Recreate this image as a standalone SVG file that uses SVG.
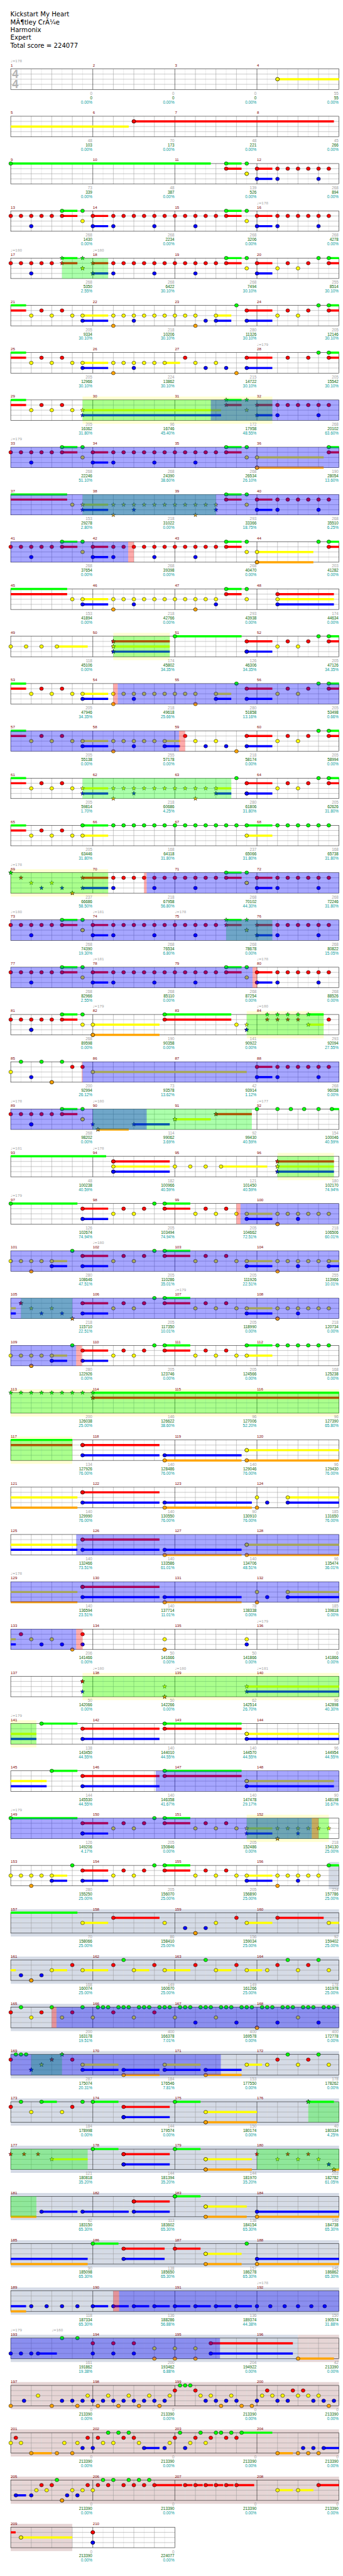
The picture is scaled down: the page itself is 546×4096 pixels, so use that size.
<svg xmlns="http://www.w3.org/2000/svg" width="546" height="4096" viewBox="0 0 546 4096">
<style>
.t{font:19px "DejaVu Sans",sans-serif;fill:#000}
.m{font:11.5px "Liberation Sans",Arial,sans-serif;fill:#800000}
.a,.c,.p{font:12px "Liberation Sans",Arial,sans-serif;text-anchor:end}
.a{fill:#a0a0a0}.c{fill:#006400}.p{fill:#009999}
.k{font:10.5px "DejaVu Sans",sans-serif;fill:#a0a0a0}
.tG,.tR,.tY,.tB,.tO{fill:none;stroke-width:6.5}
.tG{stroke:#0f0}.tR{stroke:#f00}.tY{stroke:#ff0}.tB{stroke:#00f}.tO{stroke:#ffa500}
.nG,.nR,.nY,.nB,.nO,.kG,.kR,.kY,.kB,.kO{fill:none;stroke:none}
.nG{marker:url(#mG)}.nR{marker:url(#mR)}.nY{marker:url(#mY)}.nB{marker:url(#mB)}.nO{marker:url(#mO)}
.kG{marker:url(#kG)}.kR{marker:url(#kR)}.kY{marker:url(#kY)}.kB{marker:url(#kB)}.kO{marker:url(#kO)}
.og{fill:#0f0;fill-opacity:.33}.ob{fill:#00f;fill-opacity:.35}.op{fill:#f00;fill-opacity:.33}
.py{fill:#ffffd2}.pg{fill:#d5dbe6}.pp{fill:#e6d5d5}
</style>
<defs>
<ellipse id="e" rx="5.6" ry="5.2" stroke="#000" stroke-width="1"/>
<polygon id="st" points="0,-6.5 1.53,-2.1 6.18,-2.01 2.47,0.8 3.82,5.26 0,2.6 -3.82,5.26 -2.47,0.8 -6.18,-2.01 -1.53,-2.1" stroke="#000" stroke-width="0.8"/>
<marker id="mG" markerUnits="userSpaceOnUse" overflow="visible"><use href="#e" fill="#0f0"/></marker>
<marker id="mR" markerUnits="userSpaceOnUse" overflow="visible"><use href="#e" fill="#f00"/></marker>
<marker id="mY" markerUnits="userSpaceOnUse" overflow="visible"><use href="#e" fill="#ff0"/></marker>
<marker id="mB" markerUnits="userSpaceOnUse" overflow="visible"><use href="#e" fill="#00f"/></marker>
<marker id="mO" markerUnits="userSpaceOnUse" overflow="visible"><use href="#e" fill="#ffa500"/></marker>
<marker id="kG" markerUnits="userSpaceOnUse" overflow="visible"><use href="#st" fill="#0f0"/></marker>
<marker id="kR" markerUnits="userSpaceOnUse" overflow="visible"><use href="#st" fill="#f00"/></marker>
<marker id="kY" markerUnits="userSpaceOnUse" overflow="visible"><use href="#st" fill="#ff0"/></marker>
<marker id="kB" markerUnits="userSpaceOnUse" overflow="visible"><use href="#st" fill="#00f"/></marker>
<marker id="kO" markerUnits="userSpaceOnUse" overflow="visible"><use href="#st" fill="#ffa500"/></marker>
<g id="S" fill="none">
<path stroke="#ddd" d="M62.6 0v61M123.9 0v61M185.1 0v61M246.4 0v61M307.6 0v61M368.9 0v61M430.1 0v61M491.4 0v61M552.6 0v61M613.9 0v61M675.1 0v61M736.4 0v61M797.6 0v61M858.9 0v61M920.1 0v61M981.4 0v61"/>
<path stroke="#999" d="M93.3 0v61M154.5 0v61M215.8 0v61M338.3 0v61M399.5 0v61M460.8 0v61M583.3 0v61M644.5 0v61M705.8 0v61M828.3 0v61M889.5 0v61M950.8 0v61M32 15.25H1012M32 30.5H1012M32 45.75H1012"/>
<path stroke="#000" d="M277 0v61M522 0v61M767 0v61"/>
<rect x="32" width="980" height="61" stroke="#000"/>
</g>
<g id="S2" fill="none">
<path stroke="#ddd" d="M62.6 0v61M123.9 0v61M185.1 0v61M246.4 0v61M307.6 0v61M368.9 0v61M430.1 0v61M491.4 0v61"/>
<path stroke="#999" d="M93.3 0v61M154.5 0v61M215.8 0v61M338.3 0v61M399.5 0v61M460.8 0v61M32 15.25H522M32 30.5H522M32 45.75H522"/>
<path stroke="#000" d="M277 0v61"/>
<rect x="32" width="490" height="61" stroke="#000"/>
</g>
</defs>
<rect width="546" height="4096" fill="#fff"/>
<g transform="scale(0.5333)">
<g id="header">
<text class="t" x="31" y="49.3">Kickstart My Heart</text>
<text class="t" x="31" y="72.4">MÃ¶tley CrÃ¼e</text>
<text class="t" x="31" y="95.5">Harmonix</text>
<text class="t" x="31" y="118.6">Expert</text>
<text class="t" x="31" y="141.7">Total score = 224077</text>
</g>

<g id="row0" transform="translate(0,205.7)">
<use href="#S"/>
<text x="36" y="27.5" style="font:bold 34px 'Liberation Sans',sans-serif;fill:#b4b4b4">4</text>
<text x="36" y="57.5" style="font:bold 34px 'Liberation Sans',sans-serif;fill:#b4b4b4">4</text>
<path class="tY" d="M828.3 30.5H1012"/>
<path class="nY" d="M828.3 30.5h0"/>
<text class="k" x="32" y="-20">♩=178</text>
<text class="m" y="-7"><tspan x="32">1</tspan><tspan x="277">2</tspan><tspan x="522">3</tspan><tspan x="767">4</tspan></text>
<text class="a" y="77"><tspan x="275.5">0</tspan><tspan x="520.5">0</tspan><tspan x="765.5">0</tspan><tspan x="1010.5">55</tspan></text>
<text class="c" y="90"><tspan x="275.5">0</tspan><tspan x="520.5">0</tspan><tspan x="765.5">0</tspan><tspan x="1010.5">55</tspan></text>
<text class="p" y="103"><tspan x="275.5">0.00%</tspan><tspan x="520.5">0.00%</tspan><tspan x="765.5">0.00%</tspan><tspan x="1010.5">0.00%</tspan></text>
</g>

<g id="row1" transform="translate(0,346.7)">
<use href="#S"/>
<path class="tY" d="M32 30.5H384.2"/>
<path class="tR" d="M399.5 15.25H996.7"/>
<path class="nR" d="M399.5 15.25h0"/>
<text class="m" y="-7"><tspan x="32">5</tspan><tspan x="277">6</tspan><tspan x="522">7</tspan><tspan x="767">8</tspan></text>
<text class="a" y="77"><tspan x="275.5">48</tspan><tspan x="520.5">70</tspan><tspan x="765.5">48</tspan><tspan x="1010.5">45</tspan></text>
<text class="c" y="90"><tspan x="275.5">103</tspan><tspan x="520.5">173</tspan><tspan x="765.5">221</tspan><tspan x="1010.5">266</tspan></text>
<text class="p" y="103"><tspan x="275.5">0.00%</tspan><tspan x="520.5">0.00%</tspan><tspan x="765.5">0.00%</tspan><tspan x="1010.5">0.00%</tspan></text>
</g>

<g id="row2" transform="translate(0,487.6)">
<use href="#S"/>
<path class="tG" d="M32 0H629.2M675.1 0H721.1"/>
<path class="tR" d="M675.1 15.25H721.1M767 15.25H812.9"/>
<path class="tB" d="M767 45.75H812.9"/>
<path class="nG" d="M32 0H675.1H736.4"/>
<path class="nR" d="M675.1 15.25H767H828.3H858.9H889.5H920.1H950.8H981.4"/>
<path class="nY" d="M736.4 30.5h0"/>
<path class="nB" d="M767 45.75H828.3H950.8"/>
<text class="m" y="-7"><tspan x="32">9</tspan><tspan x="277">10</tspan><tspan x="522">11</tspan><tspan x="767">12</tspan></text>
<text class="a" y="77"><tspan x="275.5">73</tspan><tspan x="520.5">48</tspan><tspan x="765.5">139</tspan><tspan x="1010.5">268</tspan></text>
<text class="c" y="90"><tspan x="275.5">339</tspan><tspan x="520.5">387</tspan><tspan x="765.5">526</tspan><tspan x="1010.5">894</tspan></text>
<text class="p" y="103"><tspan x="275.5">0.00%</tspan><tspan x="520.5">0.00%</tspan><tspan x="765.5">0.00%</tspan><tspan x="1010.5">0.00%</tspan></text>
</g>

<g id="row3" transform="translate(0,628.6)">
<use href="#S"/>
<path class="tG" d="M185.1 0H231.1M675.1 0H721.1"/>
<path class="tR" d="M185.1 15.25H231.1M277 15.25H322.9M675.1 15.25H721.1M767 15.25H812.9"/>
<path class="tB" d="M277 45.75H322.9M767 45.75H812.9"/>
<path class="nG" d="M185.1 0H246.4H675.1H736.4"/>
<path class="nR" d="M32 15.25H62.6H93.3H123.9H154.5H185.1H277H338.3H368.9H399.5H430.1H460.8H491.4H522H552.6H583.3H613.9H644.5H675.1H767H828.3H858.9H889.5H920.1H950.8H981.4"/>
<path class="nY" d="M246.4 30.5H736.4"/>
<path class="nB" d="M93.3 45.75H277H338.3H460.8H583.3H767H828.3H950.8"/>
<text class="k" x="767" y="-20">♩=178</text>
<text class="m" y="-7"><tspan x="32">13</tspan><tspan x="277">14</tspan><tspan x="522">15</tspan><tspan x="767">16</tspan></text>
<text class="a" y="77"><tspan x="275.5">268</tspan><tspan x="520.5">268</tspan><tspan x="765.5">268</tspan><tspan x="1010.5">268</tspan></text>
<text class="c" y="90"><tspan x="275.5">1430</tspan><tspan x="520.5">2234</tspan><tspan x="765.5">3206</tspan><tspan x="1010.5">4278</tspan></text>
<text class="p" y="103"><tspan x="275.5">0.00%</tspan><tspan x="520.5">0.00%</tspan><tspan x="765.5">0.00%</tspan><tspan x="1010.5">0.00%</tspan></text>
</g>

<g id="row4" transform="translate(0,769.5)">
<use href="#S"/>
<path class="tG" d="M185.1 0H231.1M675.1 0H721.1M981.4 0H1012"/>
<path class="tR" d="M185.1 15.25H231.1M277 15.25H322.9M675.1 15.25H721.1M767 15.25H812.9M981.4 15.25H1012"/>
<path class="tB" d="M277 45.75H322.9M767 45.75H812.9"/>
<path class="nG" d="M675.1 0H736.4H950.8H981.4"/>
<path class="nR" d="M32 15.25H62.6H93.3H123.9H154.5H338.3H368.9H399.5H430.1H460.8H491.4H522H552.6H583.3H613.9H644.5H675.1H767H858.9H920.1H981.4"/>
<path class="nY" d="M736.4 30.5H828.3H889.5"/>
<path class="nB" d="M93.3 45.75H338.3H460.8H583.3H767"/>
<path class="kG" d="M185.1 0H246.4"/>
<path class="kR" d="M185.1 15.25H277"/>
<path class="kY" d="M246.4 30.5h0"/>
<path class="kB" d="M277 45.75h0"/>
<rect class="og" x="185.1" width="137.8" height="61"/>
<text class="k" x="32" y="-20">♩=180</text>
<text class="k" x="277" y="-20">♩=180</text>
<text class="m" y="-7"><tspan x="32">17</tspan><tspan x="277">18</tspan><tspan x="522">19</tspan><tspan x="767">20</tspan></text>
<text class="a" y="77"><tspan x="275.5">268</tspan><tspan x="520.5">268</tspan><tspan x="765.5">268</tspan><tspan x="1010.5">255</tspan></text>
<text class="c" y="90"><tspan x="275.5">5350</tspan><tspan x="520.5">6422</tspan><tspan x="765.5">7494</tspan><tspan x="1010.5">8514</tspan></text>
<text class="p" y="103"><tspan x="275.5">2.55%</tspan><tspan x="520.5">30.10%</tspan><tspan x="765.5">30.10%</tspan><tspan x="1010.5">30.10%</tspan></text>
</g>

<g id="row5" transform="translate(0,910.5)">
<use href="#S"/>
<path class="tG" d="M32 0H77.9M981.4 0H1012"/>
<path class="tR" d="M32 15.25H77.9M736.4 15.25H812.9M981.4 15.25H1012"/>
<path class="tY" d="M246.4 30.5H322.9M644.5 30.5H690.4"/>
<path class="tB" d="M246.4 45.75H322.9M644.5 45.75H690.4M736.4 45.75H812.9"/>
<path class="nG" d="M705.8 0H950.8H981.4"/>
<path class="nR" d="M123.9 15.25H185.1H736.4H858.9H920.1H981.4"/>
<path class="nY" d="M93.3 30.5H154.5H215.8H246.4H338.3H368.9H399.5H430.1H460.8H491.4H522H552.6H583.3H644.5H828.3H889.5"/>
<path class="nB" d="M246.4 45.75H399.5H613.9H644.5H736.4"/>
<path class="nO" d="M338.3 61H583.3"/>
<text class="m" y="-7"><tspan x="32">21</tspan><tspan x="277">22</tspan><tspan x="522">23</tspan><tspan x="767">24</tspan></text>
<text class="a" y="77"><tspan x="275.5">205</tspan><tspan x="520.5">218</tspan><tspan x="765.5">280</tspan><tspan x="1010.5">205</tspan></text>
<text class="c" y="90"><tspan x="275.5">9334</tspan><tspan x="520.5">10206</tspan><tspan x="765.5">11326</tspan><tspan x="1010.5">12146</tspan></text>
<text class="p" y="103"><tspan x="275.5">30.10%</tspan><tspan x="520.5">30.10%</tspan><tspan x="765.5">30.10%</tspan><tspan x="1010.5">30.10%</tspan></text>
</g>

<g id="row6" transform="translate(0,1051.4)">
<use href="#S"/>
<path class="tG" d="M32 0H77.9M981.4 0H1012"/>
<path class="tR" d="M32 15.25H77.9M736.4 15.25H812.9M981.4 15.25H1012"/>
<path class="tY" d="M246.4 30.5H322.9M491.4 30.5H537.3"/>
<path class="tB" d="M246.4 45.75H322.9M736.4 45.75H812.9"/>
<path class="nG" d="M950.8 0H981.4"/>
<path class="nR" d="M123.9 15.25H185.1H552.6H736.4H858.9H920.1H981.4"/>
<path class="nY" d="M93.3 30.5H154.5H215.8H246.4H338.3H368.9H399.5H430.1H460.8H491.4H583.3H644.5"/>
<path class="nB" d="M246.4 45.75H399.5H613.9H675.1H736.4"/>
<path class="nO" d="M338.3 61H705.8"/>
<text class="k" x="767" y="-20">♩=179</text>
<text class="m" y="-7"><tspan x="32">25</tspan><tspan x="277">26</tspan><tspan x="522">27</tspan><tspan x="767">28</tspan></text>
<text class="a" y="77"><tspan x="275.5">205</tspan><tspan x="520.5">224</tspan><tspan x="765.5">215</tspan><tspan x="1010.5">205</tspan></text>
<text class="c" y="90"><tspan x="275.5">12966</tspan><tspan x="520.5">13862</tspan><tspan x="765.5">14722</tspan><tspan x="1010.5">15542</tspan></text>
<text class="p" y="103"><tspan x="275.5">30.10%</tspan><tspan x="520.5">30.10%</tspan><tspan x="765.5">30.10%</tspan><tspan x="1010.5">30.10%</tspan></text>
</g>

<g id="row7" transform="translate(0,1192.4)">
<rect class="py" x="246.4" y="-10" width="566.5" height="81"/>
<use href="#S"/>
<path class="tG" d="M32 0H77.9M675.1 0H721.1"/>
<path class="tR" d="M32 15.25H77.9M675.1 15.25H721.1M767 15.25H812.9"/>
<path class="tY" d="M246.4 30.5H659.8"/>
<path class="tB" d="M246.4 45.75H659.8M767 45.75H812.9"/>
<path class="nR" d="M123.9 15.25H185.1H828.3H858.9H889.5H920.1H950.8H981.4"/>
<path class="nY" d="M93.3 30.5H154.5H215.8"/>
<path class="nB" d="M828.3 45.75H950.8"/>
<path class="kG" d="M675.1 0H736.4"/>
<path class="kR" d="M675.1 15.25H767"/>
<path class="kY" d="M246.4 30.5H736.4"/>
<path class="kB" d="M246.4 45.75H767"/>
<rect class="og" x="246.4" width="566.5" height="61"/>
<rect class="ob" x="629.2" width="382.8" height="61"/>
<text class="m" y="-7"><tspan x="32">29</tspan><tspan x="277">30</tspan><tspan x="522">31</tspan><tspan x="767">32</tspan></text>
<text class="a" y="77"><tspan x="275.5">205</tspan><tspan x="520.5">96</tspan><tspan x="765.5">172</tspan><tspan x="1010.5">268</tspan></text>
<text class="c" y="90"><tspan x="275.5">16362</tspan><tspan x="520.5">16746</tspan><tspan x="765.5">17958</tspan><tspan x="1010.5">20102</tspan></text>
<text class="p" y="103"><tspan x="275.5">31.80%</tspan><tspan x="520.5">45.40%</tspan><tspan x="765.5">48.55%</tspan><tspan x="1010.5">63.60%</tspan></text>
</g>

<g id="row8" transform="translate(0,1333.3)">
<use href="#S"/>
<path class="tG" d="M185.1 0H231.1M675.1 0H721.1M981.4 0H1012"/>
<path class="tR" d="M185.1 15.25H231.1M277 15.25H322.9M675.1 15.25H721.1M981.4 15.25H1012"/>
<path class="tY" d="M767 30.5H966.1"/>
<path class="tB" d="M277 45.75H322.9"/>
<path class="tO" d="M767 61H966.1"/>
<path class="nG" d="M185.1 0H246.4H675.1H736.4H981.4"/>
<path class="nR" d="M32 15.25H62.6H93.3H123.9H154.5H185.1H277H338.3H368.9H399.5H430.1H460.8H491.4H522H552.6H583.3H613.9H644.5H675.1H981.4"/>
<path class="nY" d="M246.4 30.5H736.4H767"/>
<path class="nB" d="M93.3 45.75H277H338.3H460.8H583.3"/>
<path class="nO" d="M767 61h0"/>
<rect class="ob" x="32" width="980" height="61"/>
<text class="k" x="32" y="-20">♩=179</text>
<text class="m" y="-7"><tspan x="32">33</tspan><tspan x="277">34</tspan><tspan x="522">35</tspan><tspan x="767">36</tspan></text>
<text class="a" y="77"><tspan x="275.5">268</tspan><tspan x="520.5">268</tspan><tspan x="765.5">268</tspan><tspan x="1010.5">190</tspan></text>
<text class="c" y="90"><tspan x="275.5">22246</tspan><tspan x="520.5">24390</tspan><tspan x="765.5">26534</tspan><tspan x="1010.5">28054</tspan></text>
<text class="p" y="103"><tspan x="275.5">51.10%</tspan><tspan x="520.5">38.60%</tspan><tspan x="765.5">26.10%</tspan><tspan x="1010.5">13.60%</tspan></text>
</g>

<g id="row9" transform="translate(0,1474.3)">
<use href="#S"/>
<path class="tG" d="M32 0H200.4M675.1 0H721.1"/>
<path class="tR" d="M32 15.25H200.4M675.1 15.25H721.1M767 15.25H812.9"/>
<path class="tY" d="M246.4 30.5H322.9"/>
<path class="tB" d="M246.4 45.75H322.9M767 45.75H812.9"/>
<path class="nG" d="M675.1 0H736.4"/>
<path class="nR" d="M675.1 15.25H767H828.3H858.9H889.5H920.1H950.8H981.4"/>
<path class="nY" d="M215.8 30.5H736.4"/>
<path class="nB" d="M767 45.75H828.3H950.8"/>
<path class="kY" d="M246.4 30.5H338.3H368.9H399.5H430.1H460.8H491.4H522H552.6H583.3H613.9H644.5"/>
<path class="kB" d="M246.4 45.75H399.5H644.5"/>
<path class="kO" d="M338.3 61H583.3"/>
<rect class="og" x="246.4" width="398.1" height="61"/>
<rect class="ob" x="32" width="980" height="61"/>
<text class="m" y="-7"><tspan x="32">37</tspan><tspan x="277">38</tspan><tspan x="522">39</tspan><tspan x="767">40</tspan></text>
<text class="a" y="77"><tspan x="275.5">153</tspan><tspan x="520.5">218</tspan><tspan x="765.5">293</tspan><tspan x="1010.5">268</tspan></text>
<text class="c" y="90"><tspan x="275.5">29278</tspan><tspan x="520.5">31022</tspan><tspan x="765.5">33366</tspan><tspan x="1010.5">35510</tspan></text>
<text class="p" y="103"><tspan x="275.5">2.80%</tspan><tspan x="520.5">0.00%</tspan><tspan x="765.5">18.75%</tspan><tspan x="1010.5">6.25%</tspan></text>
</g>

<g id="row10" transform="translate(0,1615.2)">
<use href="#S"/>
<path class="tG" d="M185.1 0H231.1M675.1 0H721.1M981.4 0H1012"/>
<path class="tR" d="M185.1 15.25H231.1M277 15.25H322.9M675.1 15.25H721.1M981.4 15.25H1012"/>
<path class="tY" d="M767 30.5H935.4"/>
<path class="tB" d="M277 45.75H322.9"/>
<path class="tO" d="M767 61H935.4"/>
<path class="nG" d="M185.1 0H246.4H675.1H736.4H950.8H981.4"/>
<path class="nR" d="M32 15.25H62.6H93.3H123.9H154.5H185.1H277H338.3H368.9H399.5H430.1H460.8H491.4H522H552.6H583.3H613.9H644.5H675.1H981.4"/>
<path class="nY" d="M246.4 30.5H736.4H767"/>
<path class="nB" d="M93.3 45.75H277H338.3H460.8H583.3"/>
<path class="nO" d="M767 61h0"/>
<rect class="ob" x="32" width="350.7" height="61"/>
<rect class="op" x="382.7" width="16.8" height="61"/>
<text class="m" y="-7"><tspan x="32">41</tspan><tspan x="277">42</tspan><tspan x="522">43</tspan><tspan x="767">44</tspan></text>
<text class="a" y="77"><tspan x="275.5">268</tspan><tspan x="520.5">268</tspan><tspan x="765.5">268</tspan><tspan x="1010.5">203</tspan></text>
<text class="c" y="90"><tspan x="275.5">37654</tspan><tspan x="520.5">39398</tspan><tspan x="765.5">40470</tspan><tspan x="1010.5">41282</tspan></text>
<text class="p" y="103"><tspan x="275.5">0.00%</tspan><tspan x="520.5">0.00%</tspan><tspan x="765.5">0.00%</tspan><tspan x="1010.5">0.00%</tspan></text>
</g>

<g id="row11" transform="translate(0,1756.2)">
<use href="#S"/>
<path class="tG" d="M32 0H200.4M675.1 0H721.1"/>
<path class="tR" d="M32 15.25H200.4M675.1 15.25H721.1M828.3 15.25H996.7"/>
<path class="tY" d="M246.4 30.5H322.9M828.3 30.5H996.7"/>
<path class="tB" d="M246.4 45.75H322.9M828.3 45.75H996.7"/>
<path class="nG" d="M675.1 0H736.4"/>
<path class="nR" d="M675.1 15.25H828.3"/>
<path class="nY" d="M215.8 30.5H246.4H338.3H368.9H399.5H430.1H460.8H491.4H522H552.6H583.3H613.9H644.5H736.4H828.3"/>
<path class="nB" d="M246.4 45.75H399.5H644.5H828.3"/>
<path class="nO" d="M338.3 61H583.3"/>
<text class="m" y="-7"><tspan x="32">45</tspan><tspan x="277">46</tspan><tspan x="522">47</tspan><tspan x="767">48</tspan></text>
<text class="a" y="77"><tspan x="275.5">153</tspan><tspan x="520.5">218</tspan><tspan x="765.5">293</tspan><tspan x="1010.5">174</tspan></text>
<text class="c" y="90"><tspan x="275.5">41894</tspan><tspan x="520.5">42766</tspan><tspan x="765.5">43938</tspan><tspan x="1010.5">44634</tspan></text>
<text class="p" y="103"><tspan x="275.5">0.00%</tspan><tspan x="520.5">0.00%</tspan><tspan x="765.5">0.00%</tspan><tspan x="1010.5">0.00%</tspan></text>
</g>

<g id="row12" transform="translate(0,1897.1)">
<rect class="py" x="338.3" y="-10" width="168.4" height="81"/>
<use href="#S"/>
<path class="tG" d="M522 0H721.1M981.4 0H1012"/>
<path class="tR" d="M338.3 15.25H506.7M736.4 15.25H812.9M981.4 15.25H1012"/>
<path class="tY" d="M169.8 30.5H261.7M338.3 30.5H506.7"/>
<path class="tB" d="M338.3 45.75H506.7M736.4 45.75H812.9"/>
<path class="nG" d="M522 0H950.8H981.4"/>
<path class="nR" d="M736.4 15.25H858.9H920.1H981.4"/>
<path class="nY" d="M32 30.5H77.9H123.9H169.8H828.3H889.5"/>
<path class="nB" d="M736.4 45.75h0"/>
<path class="kR" d="M338.3 15.25h0"/>
<path class="kY" d="M338.3 30.5h0"/>
<path class="kB" d="M338.3 45.75h0"/>
<rect class="og" x="338.3" width="168.4" height="61"/>
<text class="m" y="-7"><tspan x="32">49</tspan><tspan x="277">50</tspan><tspan x="522">51</tspan><tspan x="767">52</tspan></text>
<text class="a" y="77"><tspan x="275.5">118</tspan><tspan x="520.5">174</tspan><tspan x="765.5">126</tspan><tspan x="1010.5">205</tspan></text>
<text class="c" y="90"><tspan x="275.5">45106</tspan><tspan x="520.5">45802</tspan><tspan x="765.5">46306</tspan><tspan x="1010.5">47126</tspan></text>
<text class="p" y="103"><tspan x="275.5">0.00%</tspan><tspan x="520.5">34.35%</tspan><tspan x="765.5">34.35%</tspan><tspan x="1010.5">34.35%</tspan></text>
</g>

<g id="row13" transform="translate(0,2038.1)">
<use href="#S"/>
<path class="tG" d="M32 0H77.9M981.4 0H1012"/>
<path class="tR" d="M32 15.25H77.9M736.4 15.25H812.9M981.4 15.25H1012"/>
<path class="tY" d="M246.4 30.5H322.9M644.5 30.5H690.4"/>
<path class="tB" d="M246.4 45.75H322.9M644.5 45.75H690.4M736.4 45.75H812.9"/>
<path class="nG" d="M705.8 0H950.8H981.4"/>
<path class="nR" d="M123.9 15.25H185.1H736.4H858.9H920.1H981.4"/>
<path class="nY" d="M93.3 30.5H154.5H215.8H246.4H338.3H368.9H399.5H430.1H460.8H491.4H522H552.6H583.3H644.5H828.3H889.5"/>
<path class="nB" d="M246.4 45.75H399.5H644.5H736.4"/>
<path class="nO" d="M338.3 61H583.3"/>
<rect class="op" x="338.3" width="13.1" height="61"/>
<rect class="ob" x="351.4" width="660.6" height="61"/>
<text class="m" y="-7"><tspan x="32">53</tspan><tspan x="277">54</tspan><tspan x="522">55</tspan><tspan x="767">56</tspan></text>
<text class="a" y="77"><tspan x="275.5">205</tspan><tspan x="520.5">218</tspan><tspan x="765.5">280</tspan><tspan x="1010.5">205</tspan></text>
<text class="c" y="90"><tspan x="275.5">47946</tspan><tspan x="520.5">49618</tspan><tspan x="765.5">51858</tspan><tspan x="1010.5">53498</tspan></text>
<text class="p" y="103"><tspan x="275.5">34.35%</tspan><tspan x="520.5">25.66%</tspan><tspan x="765.5">13.16%</tspan><tspan x="1010.5">0.66%</tspan></text>
</g>

<g id="row14" transform="translate(0,2179)">
<use href="#S"/>
<path class="tG" d="M32 0H77.9M981.4 0H1012"/>
<path class="tR" d="M32 15.25H77.9M736.4 15.25H812.9M981.4 15.25H1012"/>
<path class="tY" d="M246.4 30.5H322.9M491.4 30.5H537.3"/>
<path class="tB" d="M246.4 45.75H322.9M491.4 45.75H537.3M736.4 45.75H812.9"/>
<path class="nG" d="M950.8 0H981.4"/>
<path class="nR" d="M123.9 15.25H185.1H552.6H736.4H858.9H920.1H981.4"/>
<path class="nY" d="M93.3 30.5H154.5H215.8H246.4H338.3H368.9H399.5H430.1H460.8H491.4H583.3H644.5H828.3H889.5"/>
<path class="nB" d="M246.4 45.75H399.5H491.4H613.9H675.1H736.4"/>
<path class="nO" d="M338.3 61H705.8"/>
<rect class="ob" x="32" width="502.3" height="61"/>
<rect class="op" x="534.3" width="18.3" height="61"/>
<text class="m" y="-7"><tspan x="32">57</tspan><tspan x="277">58</tspan><tspan x="522">59</tspan><tspan x="767">60</tspan></text>
<text class="a" y="77"><tspan x="275.5">205</tspan><tspan x="520.5">255</tspan><tspan x="765.5">218</tspan><tspan x="1010.5">205</tspan></text>
<text class="c" y="90"><tspan x="275.5">55138</tspan><tspan x="520.5">57178</tspan><tspan x="765.5">58174</tspan><tspan x="1010.5">58994</tspan></text>
<text class="p" y="103"><tspan x="275.5">0.00%</tspan><tspan x="520.5">0.00%</tspan><tspan x="765.5">0.00%</tspan><tspan x="1010.5">0.00%</tspan></text>
</g>

<g id="row15" transform="translate(0,2320)">
<use href="#S"/>
<path class="tG" d="M32 0H77.9M981.4 0H1012"/>
<path class="tR" d="M32 15.25H77.9M736.4 15.25H812.9M981.4 15.25H1012"/>
<path class="tY" d="M246.4 30.5H322.9M644.5 30.5H690.4"/>
<path class="tB" d="M246.4 45.75H322.9M644.5 45.75H690.4M736.4 45.75H812.9"/>
<path class="nG" d="M705.8 0H950.8H981.4"/>
<path class="nR" d="M123.9 15.25H185.1H736.4H858.9H920.1H981.4"/>
<path class="nY" d="M93.3 30.5H154.5H215.8H828.3H889.5"/>
<path class="nB" d="M736.4 45.75h0"/>
<path class="kY" d="M246.4 30.5H338.3H368.9H399.5H430.1H460.8H491.4H522H552.6H583.3H613.9H644.5"/>
<path class="kB" d="M246.4 45.75H399.5H644.5"/>
<path class="kO" d="M338.3 61H583.3"/>
<rect class="og" x="246.4" width="444" height="61"/>
<text class="m" y="-7"><tspan x="32">61</tspan><tspan x="277">62</tspan><tspan x="522">63</tspan><tspan x="767">64</tspan></text>
<text class="a" y="77"><tspan x="275.5">205</tspan><tspan x="520.5">218</tspan><tspan x="765.5">280</tspan><tspan x="1010.5">205</tspan></text>
<text class="c" y="90"><tspan x="275.5">59814</tspan><tspan x="520.5">60686</tspan><tspan x="765.5">61806</tspan><tspan x="1010.5">62626</tspan></text>
<text class="p" y="103"><tspan x="275.5">1.70%</tspan><tspan x="520.5">4.25%</tspan><tspan x="765.5">31.80%</tspan><tspan x="1010.5">31.80%</tspan></text>
</g>

<g id="row16" transform="translate(0,2460.9)">
<use href="#S"/>
<path class="tG" d="M32 0H77.9M246.4 0H322.9M736.4 0H812.9"/>
<path class="tR" d="M32 15.25H77.9"/>
<path class="tY" d="M246.4 30.5H322.9M736.4 30.5H812.9"/>
<path class="nG" d="M246.4 0H338.3H368.9H399.5H430.1H460.8H491.4H522H552.6H583.3H613.9H644.5H675.1H705.8H736.4H828.3H858.9H889.5H920.1H950.8H981.4"/>
<path class="nR" d="M123.9 15.25H185.1"/>
<path class="nY" d="M93.3 30.5H154.5H215.8H246.4H736.4"/>
<text class="m" y="-7"><tspan x="32">65</tspan><tspan x="277">66</tspan><tspan x="522">67</tspan><tspan x="767">68</tspan></text>
<text class="a" y="77"><tspan x="275.5">205</tspan><tspan x="520.5">168</tspan><tspan x="765.5">237</tspan><tspan x="1010.5">168</tspan></text>
<text class="c" y="90"><tspan x="275.5">63446</tspan><tspan x="520.5">64118</tspan><tspan x="765.5">65066</tspan><tspan x="1010.5">65738</tspan></text>
<text class="p" y="103"><tspan x="275.5">31.80%</tspan><tspan x="520.5">31.80%</tspan><tspan x="765.5">31.80%</tspan><tspan x="1010.5">31.80%</tspan></text>
</g>

<g id="row17" transform="translate(0,2601.9)">
<rect class="py" x="32" y="-10" width="290.9" height="81"/>
<use href="#S"/>
<path class="tG" d="M675.1 0H721.1"/>
<path class="tR" d="M246.4 15.25H322.9M675.1 15.25H721.1M767 15.25H812.9"/>
<path class="tB" d="M246.4 45.75H322.9M767 45.75H812.9"/>
<path class="nG" d="M675.1 0H736.4"/>
<path class="nR" d="M338.3 15.25H368.9H399.5H430.1H460.8H491.4H522H552.6H583.3H613.9H644.5H675.1H767H828.3H858.9H889.5H920.1H950.8H981.4"/>
<path class="nY" d="M736.4 30.5h0"/>
<path class="nB" d="M338.3 45.75H460.8H583.3H767H828.3H950.8"/>
<path class="kG" d="M32 0h0"/>
<path class="kR" d="M62.6 15.25H246.4"/>
<path class="kY" d="M93.3 30.5H154.5"/>
<path class="kB" d="M123.9 45.75H185.1H246.4"/>
<path class="kO" d="M215.8 61h0"/>
<rect class="og" x="32" width="290.9" height="61"/>
<rect class="op" x="430.1" width="7.7" height="61"/>
<rect class="ob" x="437.8" width="574.2" height="61"/>
<text class="k" x="32" y="-20">♩=178</text>
<text class="m" y="-7"><tspan x="32">69</tspan><tspan x="277">70</tspan><tspan x="522">71</tspan><tspan x="767">72</tspan></text>
<text class="a" y="77"><tspan x="275.5">237</tspan><tspan x="520.5">218</tspan><tspan x="765.5">268</tspan><tspan x="1010.5">268</tspan></text>
<text class="c" y="90"><tspan x="275.5">66686</tspan><tspan x="520.5">67958</tspan><tspan x="765.5">70102</tspan><tspan x="1010.5">72246</tspan></text>
<text class="p" y="103"><tspan x="275.5">58.50%</tspan><tspan x="520.5">56.80%</tspan><tspan x="765.5">44.30%</tspan><tspan x="1010.5">31.80%</tspan></text>
</g>

<g id="row18" transform="translate(0,2742.8)">
<use href="#S"/>
<path class="tG" d="M185.1 0H231.1M675.1 0H721.1"/>
<path class="tR" d="M185.1 15.25H231.1M277 15.25H322.9M675.1 15.25H721.1M767 15.25H812.9"/>
<path class="tB" d="M277 45.75H322.9M767 45.75H812.9"/>
<path class="nG" d="M185.1 0H246.4"/>
<path class="nR" d="M32 15.25H62.6H93.3H123.9H154.5H185.1H277H338.3H368.9H399.5H430.1H460.8H491.4H522H552.6H583.3H613.9H644.5H828.3H858.9H889.5H920.1H950.8H981.4"/>
<path class="nY" d="M246.4 30.5h0"/>
<path class="nB" d="M93.3 45.75H277H338.3H460.8H583.3H828.3H950.8"/>
<path class="kG" d="M675.1 0H736.4"/>
<path class="kR" d="M675.1 15.25H767"/>
<path class="kY" d="M736.4 30.5h0"/>
<path class="kB" d="M767 45.75h0"/>
<rect class="og" x="675.1" width="137.8" height="61"/>
<rect class="ob" x="32" width="980" height="61"/>
<text class="k" x="32" y="-20">♩=180</text>
<text class="k" x="277" y="-20">♩=181</text>
<text class="k" x="522" y="-20">♩=178</text>
<text class="m" y="-7"><tspan x="32">73</tspan><tspan x="277">74</tspan><tspan x="522">75</tspan><tspan x="767">76</tspan></text>
<text class="a" y="77"><tspan x="275.5">268</tspan><tspan x="520.5">268</tspan><tspan x="765.5">268</tspan><tspan x="1010.5">268</tspan></text>
<text class="c" y="90"><tspan x="275.5">74390</tspan><tspan x="520.5">76534</tspan><tspan x="765.5">78678</tspan><tspan x="1010.5">80822</tspan></text>
<text class="p" y="103"><tspan x="275.5">19.30%</tspan><tspan x="520.5">6.80%</tspan><tspan x="765.5">0.00%</tspan><tspan x="1010.5">15.05%</tspan></text>
</g>

<g id="row19" transform="translate(0,2883.8)">
<use href="#S"/>
<path class="tG" d="M185.1 0H231.1M675.1 0H721.1"/>
<path class="tR" d="M185.1 15.25H231.1M277 15.25H322.9M675.1 15.25H721.1M767 15.25H812.9"/>
<path class="tB" d="M277 45.75H322.9M767 45.75H812.9"/>
<path class="nG" d="M185.1 0H246.4H675.1H736.4"/>
<path class="nR" d="M32 15.25H62.6H93.3H123.9H154.5H185.1H277H338.3H368.9H399.5H430.1H460.8H491.4H522H552.6H583.3H613.9H644.5H675.1H767H828.3H858.9H889.5H920.1H950.8H981.4"/>
<path class="nY" d="M246.4 30.5H736.4"/>
<path class="nB" d="M93.3 45.75H277H338.3H460.8H583.3H767H828.3H950.8"/>
<rect class="ob" x="32" width="721.8" height="61"/>
<rect class="op" x="753.8" width="13.2" height="61"/>
<text class="k" x="277" y="-20">♩=181</text>
<text class="k" x="767" y="-20">♩=178</text>
<text class="m" y="-7"><tspan x="32">77</tspan><tspan x="277">78</tspan><tspan x="522">79</tspan><tspan x="767">80</tspan></text>
<text class="a" y="77"><tspan x="275.5">268</tspan><tspan x="520.5">268</tspan><tspan x="765.5">268</tspan><tspan x="1010.5">268</tspan></text>
<text class="c" y="90"><tspan x="275.5">82966</tspan><tspan x="520.5">85110</tspan><tspan x="765.5">87254</tspan><tspan x="1010.5">88526</tspan></text>
<text class="p" y="103"><tspan x="275.5">2.55%</tspan><tspan x="520.5">0.00%</tspan><tspan x="765.5">0.00%</tspan><tspan x="1010.5">0.00%</tspan></text>
</g>

<g id="row20" transform="translate(0,3024.7)">
<rect class="py" x="736.4" y="-10" width="229.7" height="81"/>
<use href="#S"/>
<path class="tG" d="M185.1 0H231.1M491.4 0H690.4M920.1 0H966.1"/>
<path class="tR" d="M185.1 15.25H231.1M491.4 15.25H690.4"/>
<path class="tY" d="M277 30.5H476.1M920.1 30.5H966.1"/>
<path class="tO" d="M277 61H476.1"/>
<path class="nG" d="M185.1 0H246.4H491.4"/>
<path class="nR" d="M32 15.25H62.6H93.3H123.9H154.5H185.1H491.4H981.4"/>
<path class="nY" d="M246.4 30.5H277H705.8"/>
<path class="nB" d="M93.3 45.75h0"/>
<path class="nO" d="M277 61h0"/>
<path class="kG" d="M797.6 0H828.3H858.9H889.5H920.1"/>
<path class="kR" d="M797.6 15.25H828.3H858.9H889.5"/>
<path class="kY" d="M736.4 30.5H920.1"/>
<path class="kB" d="M736.4 45.75h0"/>
<rect class="og" x="736.4" width="229.7" height="61"/>
<text class="k" x="277" y="-20">♩=179</text>
<text class="k" x="767" y="-20">♩=180</text>
<text class="m" y="-7"><tspan x="32">81</tspan><tspan x="277">82</tspan><tspan x="522">83</tspan><tspan x="767">84</tspan></text>
<text class="a" y="77"><tspan x="275.5">268</tspan><tspan x="520.5">190</tspan><tspan x="765.5">141</tspan><tspan x="1010.5">293</tspan></text>
<text class="c" y="90"><tspan x="275.5">89598</tspan><tspan x="520.5">90358</tspan><tspan x="765.5">90922</tspan><tspan x="1010.5">92094</tspan></text>
<text class="p" y="103"><tspan x="275.5">0.00%</tspan><tspan x="520.5">0.00%</tspan><tspan x="765.5">0.00%</tspan><tspan x="1010.5">27.55%</tspan></text>
</g>

<g id="row21" transform="translate(0,3165.7)">
<use href="#S"/>
<path class="tR" d="M767 15.25H812.9"/>
<path class="tY" d="M277 30.5H736.4"/>
<path class="tB" d="M767 45.75H812.9"/>
<path class="nG" d="M62.6 0H123.9H185.1"/>
<path class="nR" d="M215.8 15.25H246.4H767H828.3H858.9H889.5H920.1H950.8H981.4"/>
<path class="nY" d="M32 30.5H277"/>
<path class="nB" d="M93.3 45.75H767H828.3H950.8"/>
<path class="nO" d="M154.5 61h0"/>
<rect class="op" x="244" width="2.4" height="61"/>
<rect class="ob" x="246.4" width="765.6" height="61"/>
<text class="m" y="-7"><tspan x="32">85</tspan><tspan x="277">86</tspan><tspan x="522">87</tspan><tspan x="767">88</tspan></text>
<text class="a" y="77"><tspan x="275.5">200</tspan><tspan x="520.5">73</tspan><tspan x="765.5">42</tspan><tspan x="1010.5">268</tspan></text>
<text class="c" y="90"><tspan x="275.5">92994</tspan><tspan x="520.5">93578</tspan><tspan x="765.5">93914</tspan><tspan x="1010.5">96058</tspan></text>
<text class="p" y="103"><tspan x="275.5">26.12%</tspan><tspan x="520.5">13.62%</tspan><tspan x="765.5">1.12%</tspan><tspan x="1010.5">0.00%</tspan></text>
</g>

<g id="row22" transform="translate(0,3306.6)">
<use href="#S"/>
<path class="tG" d="M185.1 0H231.1M990.5 0H1012"/>
<path class="tR" d="M185.1 15.25H231.1M644.5 15.25H751.7"/>
<path class="tY" d="M522 30.5H629.2"/>
<path class="tB" d="M399.5 45.75H506.7"/>
<path class="tO" d="M292.3 61H384.2"/>
<path class="nG" d="M185.1 0H246.4H767H828.3H868.1H907.9H950.8H990.5"/>
<path class="nR" d="M32 15.25H62.6H93.3H123.9H154.5H185.1"/>
<path class="nY" d="M246.4 30.5h0"/>
<path class="nB" d="M93.3 45.75h0"/>
<path class="kB" d="M277 45.75H399.5"/>
<path class="kO" d="M292.3 61h0"/>
<path class="kY" d="M522 30.5h0"/>
<path class="kR" d="M644.5 15.25h0"/>
<rect class="og" x="277" width="474.7" height="61"/>
<rect class="ob" x="32" width="405.8" height="61"/>
<text class="k" x="32" y="-20">♩=178</text>
<text class="k" x="277" y="-20">♩=180</text>
<text class="k" x="767" y="-20">♩=177</text>
<text class="m" y="-7"><tspan x="32">89</tspan><tspan x="277">90</tspan><tspan x="522">91</tspan><tspan x="767">92</tspan></text>
<text class="a" y="77"><tspan x="275.5">268</tspan><tspan x="520.5">114</tspan><tspan x="765.5">92</tspan><tspan x="1010.5">154</tspan></text>
<text class="c" y="90"><tspan x="275.5">98202</tspan><tspan x="520.5">99062</tspan><tspan x="765.5">99430</tspan><tspan x="1010.5">100046</tspan></text>
<text class="p" y="103"><tspan x="275.5">0.00%</tspan><tspan x="520.5">3.69%</tspan><tspan x="765.5">40.59%</tspan><tspan x="1010.5">40.59%</tspan></text>
</g>

<g id="row23" transform="translate(0,3447.6)">
<rect class="py" x="828.3" y="-10" width="168.4" height="81"/>
<use href="#S"/>
<path class="tG" d="M32 0H316.8"/>
<path class="tR" d="M338.3 15.25H506.7M828.3 15.25H996.7"/>
<path class="tY" d="M338.3 30.5H506.7M659.8 30.5H797.6M828.3 30.5H996.7"/>
<path class="tB" d="M338.3 45.75H506.7M828.3 45.75H996.7"/>
<path class="nR" d="M338.3 15.25h0"/>
<path class="nY" d="M338.3 30.5H522H567.9H613.9H659.8"/>
<path class="nB" d="M338.3 45.75h0"/>
<path class="kR" d="M828.3 15.25h0"/>
<path class="kY" d="M828.3 30.5h0"/>
<path class="kB" d="M828.3 45.75h0"/>
<rect class="og" x="828.3" width="168.4" height="61"/>
<text class="k" x="32" y="-20">♩=181</text>
<text class="k" x="277" y="-20">♩=178</text>
<text class="m" y="-7"><tspan x="32">93</tspan><tspan x="277">94</tspan><tspan x="522">95</tspan><tspan x="767">96</tspan></text>
<text class="a" y="77"><tspan x="275.5">48</tspan><tspan x="520.5">182</tspan><tspan x="765.5">121</tspan><tspan x="1010.5">180</tspan></text>
<text class="c" y="90"><tspan x="275.5">100238</tspan><tspan x="520.5">100966</tspan><tspan x="765.5">101450</tspan><tspan x="1010.5">102170</tspan></text>
<text class="p" y="103"><tspan x="275.5">40.59%</tspan><tspan x="520.5">40.59%</tspan><tspan x="765.5">40.59%</tspan><tspan x="1010.5">74.94%</tspan></text>
</g>

<g id="row24" transform="translate(0,3588.5)">
<use href="#S"/>
<path class="tG" d="M32 0H231.1M491.4 0H567.9"/>
<path class="tR" d="M246.4 15.25H322.9M491.4 15.25H567.9"/>
<path class="tY" d="M736.4 30.5H812.9"/>
<path class="tB" d="M246.4 45.75H322.9M736.4 45.75H812.9"/>
<path class="nG" d="M32 0H460.8H491.4"/>
<path class="nR" d="M246.4 15.25H368.9H430.1H491.4H613.9H675.1"/>
<path class="nY" d="M338.3 30.5H399.5H583.3H644.5H705.8H736.4H828.3H858.9H889.5H920.1H950.8H981.4"/>
<path class="nB" d="M246.4 45.75H736.4H889.5"/>
<path class="nO" d="M828.3 61h0"/>
<rect class="op" x="705.8" width="12.2" height="61"/>
<rect class="ob" x="718" width="294" height="61"/>
<text class="k" x="32" y="-20">♩=179</text>
<text class="m" y="-7"><tspan x="32">97</tspan><tspan x="277">98</tspan><tspan x="522">99</tspan><tspan x="767">100</tspan></text>
<text class="a" y="77"><tspan x="275.5">126</tspan><tspan x="520.5">205</tspan><tspan x="765.5">205</tspan><tspan x="1010.5">218</tspan></text>
<text class="c" y="90"><tspan x="275.5">102674</tspan><tspan x="520.5">103494</tspan><tspan x="765.5">104662</tspan><tspan x="1010.5">106506</tspan></text>
<text class="p" y="103"><tspan x="275.5">74.94%</tspan><tspan x="520.5">74.94%</tspan><tspan x="765.5">72.51%</tspan><tspan x="1010.5">60.01%</tspan></text>
</g>

<g id="row25" transform="translate(0,3729.5)">
<use href="#S"/>
<path class="tG" d="M491.4 0H567.9"/>
<path class="tR" d="M246.4 15.25H322.9M491.4 15.25H567.9"/>
<path class="tY" d="M154.5 30.5H200.4M736.4 30.5H812.9M981.4 30.5H1012"/>
<path class="tB" d="M154.5 45.75H200.4M246.4 45.75H322.9M736.4 45.75H812.9M981.4 45.75H1012"/>
<path class="nG" d="M215.8 0H460.8H491.4"/>
<path class="nR" d="M246.4 15.25H368.9H430.1H491.4H613.9H675.1"/>
<path class="nY" d="M32 30.5H62.6H93.3H123.9H154.5H338.3H399.5H583.3H644.5H705.8H736.4H828.3H858.9H889.5H920.1H950.8H981.4"/>
<path class="nB" d="M154.5 45.75H246.4H736.4H889.5H981.4"/>
<path class="nO" d="M93.3 61H828.3"/>
<rect class="ob" x="32" width="980" height="61"/>
<text class="k" x="277" y="-20">♩=180</text>
<text class="m" y="-7"><tspan x="32">101</tspan><tspan x="277">102</tspan><tspan x="522">103</tspan><tspan x="767">104</tspan></text>
<text class="a" y="77"><tspan x="275.5">280</tspan><tspan x="520.5">205</tspan><tspan x="765.5">205</tspan><tspan x="1010.5">255</tspan></text>
<text class="c" y="90"><tspan x="275.5">108646</tspan><tspan x="520.5">110286</tspan><tspan x="765.5">111926</tspan><tspan x="1010.5">113966</tspan></text>
<text class="p" y="103"><tspan x="275.5">47.51%</tspan><tspan x="520.5">35.01%</tspan><tspan x="765.5">22.51%</tspan><tspan x="1010.5">10.01%</tspan></text>
</g>

<g id="row26" transform="translate(0,3870.4)">
<use href="#S"/>
<path class="tG" d="M491.4 0H567.9"/>
<path class="tR" d="M246.4 15.25H322.9M491.4 15.25H567.9"/>
<path class="tY" d="M32 30.5H47.3M736.4 30.5H812.9"/>
<path class="tB" d="M32 45.75H47.3M246.4 45.75H322.9M736.4 45.75H812.9"/>
<path class="nG" d="M460.8 0H491.4"/>
<path class="nR" d="M246.4 15.25H368.9H430.1H491.4H613.9H675.1"/>
<path class="nY" d="M338.3 30.5H399.5H583.3H644.5H705.8H736.4H828.3H858.9H889.5H920.1H950.8H981.4"/>
<path class="nB" d="M246.4 45.75H736.4H889.5"/>
<path class="nO" d="M828.3 61h0"/>
<path class="kR" d="M62.6 15.25h0"/>
<path class="kY" d="M93.3 30.5H154.5"/>
<path class="kB" d="M123.9 45.75H185.1"/>
<path class="kO" d="M215.8 61h0"/>
<rect class="og" x="62.6" width="153.2" height="61"/>
<rect class="ob" x="32" width="980" height="61"/>
<text class="k" x="522" y="-20">♩=179</text>
<text class="m" y="-7"><tspan x="32">105</tspan><tspan x="277">106</tspan><tspan x="522">107</tspan><tspan x="767">108</tspan></text>
<text class="a" y="77"><tspan x="275.5">218</tspan><tspan x="520.5">205</tspan><tspan x="765.5">205</tspan><tspan x="1010.5">218</tspan></text>
<text class="c" y="90"><tspan x="275.5">115710</tspan><tspan x="520.5">117350</tspan><tspan x="765.5">118990</tspan><tspan x="1010.5">120734</tspan></text>
<text class="p" y="103"><tspan x="275.5">22.51%</tspan><tspan x="520.5">10.01%</tspan><tspan x="765.5">0.00%</tspan><tspan x="1010.5">0.00%</tspan></text>
</g>

<g id="row27" transform="translate(0,4011.4)">
<use href="#S"/>
<path class="tG" d="M491.4 0H567.9M736.4 0H812.9"/>
<path class="tR" d="M246.4 15.25H322.9M491.4 15.25H567.9"/>
<path class="tY" d="M154.5 30.5H200.4M736.4 30.5H812.9"/>
<path class="tB" d="M154.5 45.75H200.4M246.4 45.75H322.9"/>
<path class="nG" d="M215.8 0H460.8H491.4H736.4H828.3H858.9H889.5H920.1H950.8H981.4"/>
<path class="nR" d="M246.4 15.25H368.9H430.1H491.4H613.9H675.1"/>
<path class="nY" d="M32 30.5H62.6H93.3H123.9H154.5H338.3H399.5H583.3H644.5H705.8H736.4"/>
<path class="nB" d="M154.5 45.75H246.4"/>
<path class="nO" d="M93.3 61h0"/>
<rect class="ob" x="32" width="195.4" height="61"/>
<rect class="op" x="227.4" width="17.4" height="61"/>
<text class="m" y="-7"><tspan x="32">109</tspan><tspan x="277">110</tspan><tspan x="522">111</tspan><tspan x="767">112</tspan></text>
<text class="a" y="77"><tspan x="275.5">280</tspan><tspan x="520.5">205</tspan><tspan x="765.5">205</tspan><tspan x="1010.5">168</tspan></text>
<text class="c" y="90"><tspan x="275.5">122926</tspan><tspan x="520.5">123746</tspan><tspan x="765.5">124566</tspan><tspan x="1010.5">125238</tspan></text>
<text class="p" y="103"><tspan x="275.5">0.00%</tspan><tspan x="520.5">0.00%</tspan><tspan x="765.5">0.00%</tspan><tspan x="1010.5">0.00%</tspan></text>
</g>

<g id="row28" transform="translate(0,4152.3)">
<rect class="py" x="32" y="-10" width="980" height="81"/>
<use href="#S"/>
<path class="tG" d="M277 0H1012"/>
<path class="tR" d="M277 15.25H1012"/>
<path class="kG" d="M32 0H62.6H93.3H123.9H154.5H185.1H215.8H246.4H277"/>
<path class="kR" d="M277 15.25h0"/>
<rect class="og" x="32" width="980" height="61"/>
<text class="m" y="-7"><tspan x="32">113</tspan><tspan x="277">114</tspan><tspan x="522">115</tspan><tspan x="767">116</tspan></text>
<text class="a" y="77"><tspan x="275.5">200</tspan><tspan x="520.5">146</tspan><tspan x="765.5">96</tspan><tspan x="1010.5">96</tspan></text>
<text class="c" y="90"><tspan x="275.5">126038</tspan><tspan x="520.5">126622</tspan><tspan x="765.5">127006</tspan><tspan x="1010.5">127390</tspan></text>
<text class="p" y="103"><tspan x="275.5">25.00%</tspan><tspan x="520.5">38.60%</tspan><tspan x="765.5">52.20%</tspan><tspan x="1010.5">65.80%</tspan></text>
</g>

<g id="row29" transform="translate(0,4293.3)">
<rect class="py" x="32" y="-10" width="183.8" height="81"/>
<use href="#S"/>
<path class="tG" d="M32 0H215.8"/>
<path class="tR" d="M32 15.25H215.8M246.4 15.25H476.1"/>
<path class="tY" d="M736.4 30.5H1012"/>
<path class="tB" d="M246.4 45.75H476.1M491.4 45.75H721.1"/>
<path class="tO" d="M491.4 61H721.1M736.4 61H1012"/>
<path class="nR" d="M246.4 15.25h0"/>
<path class="nY" d="M736.4 30.5h0"/>
<path class="nB" d="M246.4 45.75H491.4"/>
<path class="nO" d="M491.4 61H736.4"/>
<rect class="og" x="32" width="183.8" height="61"/>
<text class="m" y="-7"><tspan x="32">117</tspan><tspan x="277">118</tspan><tspan x="522">119</tspan><tspan x="767">120</tspan></text>
<text class="a" y="77"><tspan x="275.5">134</tspan><tspan x="520.5">140</tspan><tspan x="765.5">140</tspan><tspan x="1010.5">96</tspan></text>
<text class="c" y="90"><tspan x="275.5">127926</tspan><tspan x="520.5">128486</tspan><tspan x="765.5">129046</tspan><tspan x="1010.5">129430</tspan></text>
<text class="p" y="103"><tspan x="275.5">76.00%</tspan><tspan x="520.5">76.00%</tspan><tspan x="765.5">76.00%</tspan><tspan x="1010.5">76.00%</tspan></text>
</g>

<g id="row30" transform="translate(0,4434.2)">
<use href="#S"/>
<path class="tR" d="M246.4 15.25H476.1"/>
<path class="tY" d="M32 30.5H231.1M858.9 30.5H1012"/>
<path class="tB" d="M246.4 45.75H476.1M491.4 45.75H751.7M858.9 45.75H1012"/>
<path class="tO" d="M32 61H231.1M491.4 61H751.7"/>
<path class="nR" d="M246.4 15.25h0"/>
<path class="nY" d="M767 30.5H858.9"/>
<path class="nB" d="M246.4 45.75H491.4H797.6H858.9"/>
<path class="nO" d="M491.4 61H767"/>
<text class="m" y="-7"><tspan x="32">121</tspan><tspan x="277">122</tspan><tspan x="522">123</tspan><tspan x="767">124</tspan></text>
<text class="a" y="77"><tspan x="275.5">140</tspan><tspan x="520.5">140</tspan><tspan x="765.5">90</tspan><tspan x="1010.5">185</tspan></text>
<text class="c" y="90"><tspan x="275.5">129990</tspan><tspan x="520.5">130550</tspan><tspan x="765.5">130910</tspan><tspan x="1010.5">131650</tspan></text>
<text class="p" y="103"><tspan x="275.5">76.00%</tspan><tspan x="520.5">76.00%</tspan><tspan x="765.5">76.00%</tspan><tspan x="1010.5">76.00%</tspan></text>
</g>

<g id="row31" transform="translate(0,4575.2)">
<use href="#S"/>
<path class="tR" d="M246.4 15.25H476.1"/>
<path class="tY" d="M32 30.5H231.1M736.4 30.5H1012"/>
<path class="tB" d="M32 45.75H231.1M246.4 45.75H476.1M491.4 45.75H721.1"/>
<path class="tO" d="M491.4 61H721.1M736.4 61H1012"/>
<path class="nR" d="M246.4 15.25h0"/>
<path class="nY" d="M736.4 30.5h0"/>
<path class="nB" d="M246.4 45.75H491.4"/>
<path class="nO" d="M491.4 61H736.4"/>
<rect class="ob" x="227.4" width="784.6" height="61"/>
<text class="m" y="-7"><tspan x="32">125</tspan><tspan x="277">126</tspan><tspan x="522">127</tspan><tspan x="767">128</tspan></text>
<text class="a" y="77"><tspan x="275.5">140</tspan><tspan x="520.5">140</tspan><tspan x="765.5">140</tspan><tspan x="1010.5">96</tspan></text>
<text class="c" y="90"><tspan x="275.5">132466</tspan><tspan x="520.5">133586</tspan><tspan x="765.5">134706</tspan><tspan x="1010.5">135474</tspan></text>
<text class="p" y="103"><tspan x="275.5">73.51%</tspan><tspan x="520.5">61.01%</tspan><tspan x="765.5">48.51%</tspan><tspan x="1010.5">36.01%</tspan></text>
</g>

<g id="row32" transform="translate(0,4716.1)">
<use href="#S"/>
<path class="tR" d="M246.4 15.25H476.1"/>
<path class="tY" d="M32 30.5H231.1M858.9 30.5H1012"/>
<path class="tB" d="M246.4 45.75H476.1M491.4 45.75H721.1M858.9 45.75H1012"/>
<path class="tO" d="M32 61H231.1M491.4 61H721.1"/>
<path class="nR" d="M246.4 15.25h0"/>
<path class="nY" d="M767 30.5H858.9"/>
<path class="nB" d="M246.4 45.75H491.4H797.6H858.9"/>
<path class="nO" d="M491.4 61H767"/>
<rect class="ob" x="32" width="980" height="61"/>
<text class="k" x="32" y="-20">♩=178</text>
<text class="m" y="-7"><tspan x="32">129</tspan><tspan x="277">130</tspan><tspan x="522">131</tspan><tspan x="767">132</tspan></text>
<text class="a" y="77"><tspan x="275.5">140</tspan><tspan x="520.5">140</tspan><tspan x="765.5">78</tspan><tspan x="1010.5">185</tspan></text>
<text class="c" y="90"><tspan x="275.5">136594</tspan><tspan x="520.5">137714</tspan><tspan x="765.5">138338</tspan><tspan x="1010.5">139818</tspan></text>
<text class="p" y="103"><tspan x="275.5">23.51%</tspan><tspan x="520.5">11.01%</tspan><tspan x="765.5">0.00%</tspan><tspan x="1010.5">0.00%</tspan></text>
</g>

<g id="row33" transform="translate(0,4857.1)">
<use href="#S"/>
<path class="tY" d="M32 30.5H47.3"/>
<path class="tB" d="M32 45.75H47.3"/>
<path class="nR" d="M62.6 15.25H246.4"/>
<path class="nY" d="M93.3 30.5H154.5H491.4H736.4"/>
<path class="nB" d="M123.9 45.75H185.1H246.4H736.4"/>
<path class="nO" d="M215.8 61H491.4"/>
<rect class="ob" x="32" width="195.4" height="61"/>
<rect class="op" x="227.4" width="19" height="61"/>
<text class="k" x="767" y="-20">♩=179</text>
<text class="m" y="-7"><tspan x="32">133</tspan><tspan x="277">134</tspan><tspan x="522">135</tspan><tspan x="767">136</tspan></text>
<text class="a" y="77"><tspan x="275.5">206</tspan><tspan x="520.5">50</tspan><tspan x="765.5">50</tspan><tspan x="1010.5">0</tspan></text>
<text class="c" y="90"><tspan x="275.5">141466</tspan><tspan x="520.5">141666</tspan><tspan x="765.5">141866</tspan><tspan x="1010.5">141866</tspan></text>
<text class="p" y="103"><tspan x="275.5">0.00%</tspan><tspan x="520.5">0.00%</tspan><tspan x="765.5">0.00%</tspan><tspan x="1010.5">0.00%</tspan></text>
</g>

<g id="row34" transform="translate(0,4998)">
<rect class="py" x="246.4" y="-10" width="765.6" height="81"/>
<use href="#S"/>
<path class="tY" d="M736.4 30.5H1012"/>
<path class="tB" d="M736.4 45.75H1012"/>
<path class="kR" d="M246.4 15.25h0"/>
<path class="kB" d="M246.4 45.75H736.4"/>
<path class="kY" d="M491.4 30.5H736.4"/>
<path class="kO" d="M491.4 61h0"/>
<rect class="og" x="246.4" width="765.6" height="61"/>
<text class="k" x="277" y="-20">♩=180</text>
<text class="k" x="522" y="-20">♩=180</text>
<text class="k" x="767" y="-20">♩=181</text>
<text class="m" y="-7"><tspan x="32">137</tspan><tspan x="277">138</tspan><tspan x="522">139</tspan><tspan x="767">140</tspan></text>
<text class="a" y="77"><tspan x="275.5">50</tspan><tspan x="520.5">50</tspan><tspan x="765.5">62</tspan><tspan x="1010.5">96</tspan></text>
<text class="c" y="90"><tspan x="275.5">142066</tspan><tspan x="520.5">142266</tspan><tspan x="765.5">142514</tspan><tspan x="1010.5">142898</tspan></text>
<text class="p" y="103"><tspan x="275.5">0.00%</tspan><tspan x="520.5">0.00%</tspan><tspan x="765.5">26.70%</tspan><tspan x="1010.5">40.30%</tspan></text>
</g>

<g id="row35" transform="translate(0,5139)">
<rect class="py" x="32" y="-10" width="76.6" height="81"/>
<use href="#S"/>
<path class="tG" d="M123.9 0H231.1M491.4 0H721.1"/>
<path class="tR" d="M246.4 15.25H476.1M491.4 15.25H721.1"/>
<path class="tY" d="M32 30.5H108.6M736.4 30.5H1012"/>
<path class="tB" d="M32 45.75H108.6M246.4 45.75H476.1M736.4 45.75H1012"/>
<path class="nG" d="M123.9 0H491.4"/>
<path class="nR" d="M246.4 15.25H491.4"/>
<path class="nY" d="M736.4 30.5h0"/>
<path class="nB" d="M246.4 45.75H736.4"/>
<rect class="og" x="32" width="76.6" height="61"/>
<text class="k" x="32" y="-20">♩=179</text>
<text class="m" y="-7"><tspan x="32">141</tspan><tspan x="277">142</tspan><tspan x="522">143</tspan><tspan x="767">144</tspan></text>
<text class="a" y="77"><tspan x="275.5">138</tspan><tspan x="520.5">140</tspan><tspan x="765.5">140</tspan><tspan x="1010.5">96</tspan></text>
<text class="c" y="90"><tspan x="275.5">143450</tspan><tspan x="520.5">144010</tspan><tspan x="765.5">144570</tspan><tspan x="1010.5">144954</tspan></text>
<text class="p" y="103"><tspan x="275.5">44.55%</tspan><tspan x="520.5">44.55%</tspan><tspan x="765.5">44.55%</tspan><tspan x="1010.5">44.55%</tspan></text>
</g>

<g id="row36" transform="translate(0,5279.9)">
<use href="#S"/>
<path class="tG" d="M154.5 0H231.1M491.4 0H721.1"/>
<path class="tR" d="M246.4 15.25H476.1M491.4 15.25H721.1"/>
<path class="tY" d="M32 30.5H139.2M736.4 30.5H996.7"/>
<path class="tB" d="M32 45.75H139.2M246.4 45.75H476.1M736.4 45.75H996.7"/>
<path class="nG" d="M154.5 0H491.4"/>
<path class="nR" d="M246.4 15.25H491.4"/>
<path class="nY" d="M736.4 30.5h0"/>
<path class="nB" d="M246.4 45.75H736.4"/>
<rect class="ob" x="464.7" width="547.3" height="61"/>
<text class="m" y="-7"><tspan x="32">145</tspan><tspan x="277">146</tspan><tspan x="522">147</tspan><tspan x="767">148</tspan></text>
<text class="a" y="77"><tspan x="275.5">144</tspan><tspan x="520.5">140</tspan><tspan x="765.5">140</tspan><tspan x="1010.5">90</tspan></text>
<text class="c" y="90"><tspan x="275.5">145530</tspan><tspan x="520.5">146358</tspan><tspan x="765.5">147478</tspan><tspan x="1010.5">148198</tspan></text>
<text class="p" y="103"><tspan x="275.5">44.55%</tspan><tspan x="520.5">41.67%</tspan><tspan x="765.5">29.17%</tspan><tspan x="1010.5">16.67%</tspan></text>
</g>

<g id="row37" transform="translate(0,5420.9)">
<rect class="py" x="736.4" y="-10" width="245" height="81"/>
<use href="#S"/>
<path class="tG" d="M32 0H231.1M491.4 0H567.9"/>
<path class="tR" d="M246.4 15.25H322.9M491.4 15.25H567.9"/>
<path class="tY" d="M736.4 30.5H812.9"/>
<path class="tB" d="M246.4 45.75H322.9M736.4 45.75H812.9"/>
<path class="nG" d="M32 0H460.8H491.4"/>
<path class="nR" d="M246.4 15.25H368.9H430.1H491.4H613.9H675.1"/>
<path class="nY" d="M338.3 30.5H399.5H583.3H644.5H705.8"/>
<path class="nB" d="M246.4 45.75h0"/>
<path class="kY" d="M736.4 30.5H828.3H858.9H889.5H920.1H950.8H981.4"/>
<path class="kB" d="M736.4 45.75H889.5"/>
<path class="kO" d="M828.3 61h0"/>
<rect class="og" x="736.4" width="245" height="61"/>
<rect class="ob" x="32" width="898.8" height="61"/>
<rect class="op" x="930.8" width="20" height="61"/>
<text class="k" x="32" y="-20">♩=179</text>
<text class="m" y="-7"><tspan x="32">149</tspan><tspan x="277">150</tspan><tspan x="522">151</tspan><tspan x="767">152</tspan></text>
<text class="a" y="77"><tspan x="275.5">126</tspan><tspan x="520.5">205</tspan><tspan x="765.5">205</tspan><tspan x="1010.5">218</tspan></text>
<text class="c" y="90"><tspan x="275.5">149206</tspan><tspan x="520.5">150846</tspan><tspan x="765.5">152486</tspan><tspan x="1010.5">154130</tspan></text>
<text class="p" y="103"><tspan x="275.5">4.17%</tspan><tspan x="520.5">0.00%</tspan><tspan x="765.5">0.00%</tspan><tspan x="1010.5">25.00%</tspan></text>
</g>

<g id="row38" transform="translate(0,5561.8)">
<rect class="pg" x="981.4" y="-10" width="30.6" height="81"/>
<use href="#S"/>
<path class="tG" d="M491.4 0H567.9M981.4 0H1012"/>
<path class="tR" d="M246.4 15.25H322.9M491.4 15.25H567.9"/>
<path class="tY" d="M154.5 30.5H200.4M736.4 30.5H812.9"/>
<path class="tB" d="M154.5 45.75H200.4M246.4 45.75H322.9M736.4 45.75H812.9"/>
<path class="nG" d="M215.8 0H460.8H491.4H981.4"/>
<path class="nR" d="M246.4 15.25H368.9H430.1H491.4H613.9H675.1"/>
<path class="nY" d="M32 30.5H62.6H93.3H123.9H154.5H338.3H399.5H583.3H644.5H705.8H736.4H828.3H858.9H889.5H920.1H950.8"/>
<path class="nB" d="M154.5 45.75H246.4H736.4H889.5"/>
<path class="nO" d="M93.3 61H828.3"/>
<text class="m" y="-7"><tspan x="32">153</tspan><tspan x="277">154</tspan><tspan x="522">155</tspan><tspan x="767">156</tspan></text>
<text class="a" y="77"><tspan x="275.5">280</tspan><tspan x="520.5">205</tspan><tspan x="765.5">205</tspan><tspan x="1010.5">224</tspan></text>
<text class="c" y="90"><tspan x="275.5">155250</tspan><tspan x="520.5">156070</tspan><tspan x="765.5">156890</tspan><tspan x="1010.5">157786</tspan></text>
<text class="p" y="103"><tspan x="275.5">25.00%</tspan><tspan x="520.5">25.00%</tspan><tspan x="765.5">25.00%</tspan><tspan x="1010.5">25.00%</tspan></text>
</g>

<g id="row39" transform="translate(0,5702.8)">
<rect class="pg" x="32" y="-10" width="980" height="81"/>
<use href="#S"/>
<path class="tG" d="M32 0H231.1"/>
<path class="tR" d="M338.3 15.25H476.1M828.3 15.25H966.1"/>
<path class="tY" d="M246.4 30.5H322.9M736.4 30.5H812.9M981.4 30.5H1012"/>
<path class="nR" d="M338.3 15.25H705.8H828.3"/>
<path class="nY" d="M246.4 30.5H491.4H644.5H736.4H981.4"/>
<path class="nB" d="M552.6 45.75H613.9"/>
<path class="nO" d="M583.3 61h0"/>
<text class="m" y="-7"><tspan x="32">157</tspan><tspan x="277">158</tspan><tspan x="522">159</tspan><tspan x="767">160</tspan></text>
<text class="a" y="77"><tspan x="275.5">70</tspan><tspan x="520.5">86</tspan><tspan x="765.5">156</tspan><tspan x="1010.5">92</tspan></text>
<text class="c" y="90"><tspan x="275.5">158066</tspan><tspan x="520.5">158410</tspan><tspan x="765.5">159034</tspan><tspan x="1010.5">159402</tspan></text>
<text class="p" y="103"><tspan x="275.5">25.00%</tspan><tspan x="520.5">25.00%</tspan><tspan x="765.5">25.00%</tspan><tspan x="1010.5">25.00%</tspan></text>
</g>

<g id="row40" transform="translate(0,5843.7)">
<rect class="pg" x="32" y="-10" width="980" height="81"/>
<use href="#S"/>
<path class="tY" d="M32 30.5H47.3M154.5 30.5H200.4M246.4 30.5H322.9M399.5 30.5H445.4M491.4 30.5H567.9M644.5 30.5H690.4M736.4 30.5H782.3"/>
<path class="nG" d="M368.9 0H613.9H858.9H950.8"/>
<path class="nR" d="M215.8 15.25H338.3H460.8H583.3H705.8H828.3H920.1"/>
<path class="nY" d="M154.5 30.5H246.4H399.5H491.4H644.5H736.4H797.6H889.5H981.4"/>
<path class="nB" d="M62.6 45.75H123.9"/>
<path class="nO" d="M93.3 61h0"/>
<text class="m" y="-7"><tspan x="32">161</tspan><tspan x="277">162</tspan><tspan x="522">163</tspan><tspan x="767">164</tspan></text>
<text class="a" y="77"><tspan x="275.5">168</tspan><tspan x="520.5">149</tspan><tspan x="765.5">149</tspan><tspan x="1010.5">178</tspan></text>
<text class="c" y="90"><tspan x="275.5">160074</tspan><tspan x="520.5">160670</tspan><tspan x="765.5">161266</tspan><tspan x="1010.5">161978</tspan></text>
<text class="p" y="103"><tspan x="275.5">25.00%</tspan><tspan x="520.5">25.00%</tspan><tspan x="765.5">25.00%</tspan><tspan x="1010.5">25.00%</tspan></text>
</g>

<g id="row41" transform="translate(0,5984.7)">
<rect class="pg" x="32" y="-10" width="980" height="81"/>
<use href="#S"/>
<path class="nG" d="M62.6 0H154.5H246.4H292.3H307.6H322.9H353.6H368.9H384.2H414.8H430.1H445.4H476.1H491.4H506.7H537.3H552.6H567.9H598.6H613.9H629.2H659.8H675.1H690.4H721.1H736.4H751.7H782.3H797.6H812.9H843.6H858.9H874.2H904.8H920.1H935.4H966.1H981.4H996.7"/>
<path class="nR" d="M32 15.25H123.9H215.8H338.3H460.8"/>
<path class="nY" d="M93.3 30.5H185.1H277H399.5H522H644.5H889.5"/>
<path class="nB" d="M583.3 45.75H705.8H828.3H950.8"/>
<path class="nO" d="M767 61h0"/>
<rect class="op" x="154.5" width="14.1" height="61"/>
<rect class="ob" x="168.6" width="843.4" height="61"/>
<text class="m" y="-7"><tspan x="32">165</tspan><tspan x="277">166</tspan><tspan x="522">167</tspan><tspan x="767">168</tspan></text>
<text class="a" y="77"><tspan x="275.5">200</tspan><tspan x="520.5">400</tspan><tspan x="765.5">400</tspan><tspan x="1010.5">400</tspan></text>
<text class="c" y="90"><tspan x="275.5">163178</tspan><tspan x="520.5">166378</tspan><tspan x="765.5">169578</tspan><tspan x="1010.5">172778</tspan></text>
<text class="p" y="103"><tspan x="275.5">19.51%</tspan><tspan x="520.5">7.01%</tspan><tspan x="765.5">0.00%</tspan><tspan x="1010.5">0.00%</tspan></text>
</g>

<g id="row42" transform="translate(0,6125.6)">
<rect class="pg" x="32" y="-10" width="980" height="81"/>
<use href="#S"/>
<path class="tY" d="M246.4 30.5H353.6M491.4 30.5H598.6M736.4 30.5H782.3"/>
<path class="tB" d="M246.4 45.75H353.6M368.9 45.75H476.1M491.4 45.75H598.6M613.9 45.75H721.1"/>
<path class="tO" d="M368.9 61H476.1M613.9 61H721.1"/>
<path class="nG" d="M47.3 0H62.6H77.9H858.9H950.8"/>
<path class="nR" d="M32 15.25H215.8H828.3H920.1"/>
<path class="nY" d="M246.4 30.5H491.4H736.4H797.6H889.5H981.4"/>
<path class="nB" d="M246.4 45.75H368.9H491.4H613.9"/>
<path class="nO" d="M368.9 61H613.9"/>
<path class="kB" d="M93.3 45.75h0"/>
<path class="kY" d="M123.9 30.5h0"/>
<path class="kR" d="M154.5 15.25h0"/>
<path class="kG" d="M185.1 0h0"/>
<rect class="og" x="93.3" width="91.8" height="61"/>
<rect class="ob" x="32" width="627.2" height="61"/>
<text class="m" y="-7"><tspan x="32">169</tspan><tspan x="277">170</tspan><tspan x="522">171</tspan><tspan x="767">172</tspan></text>
<text class="a" y="77"><tspan x="275.5">287</tspan><tspan x="520.5">184</tspan><tspan x="765.5">153</tspan><tspan x="1010.5">178</tspan></text>
<text class="c" y="90"><tspan x="275.5">175074</tspan><tspan x="520.5">176546</tspan><tspan x="765.5">177550</tspan><tspan x="1010.5">178262</tspan></text>
<text class="p" y="103"><tspan x="275.5">20.31%</tspan><tspan x="520.5">7.81%</tspan><tspan x="765.5">0.00%</tspan><tspan x="1010.5">0.00%</tspan></text>
</g>

<g id="row43" transform="translate(0,6266.6)">
<rect class="pg" x="32" y="-10" width="980" height="81"/>
<use href="#S"/>
<path class="tG" d="M123.9 0H169.8M277 0H353.6M522 0H598.6M920.1 0H996.7"/>
<path class="tR" d="M368.9 15.25H506.7"/>
<path class="tY" d="M613.9 30.5H767"/>
<path class="tB" d="M368.9 45.75H506.7"/>
<path class="tO" d="M613.9 61H767"/>
<path class="nG" d="M62.6 0H123.9H246.4H277H522"/>
<path class="nR" d="M32 15.25H215.8H368.9"/>
<path class="nY" d="M93.3 30.5H185.1H613.9"/>
<path class="nB" d="M368.9 45.75h0"/>
<path class="nO" d="M613.9 61h0"/>
<path class="kG" d="M920.1 0h0"/>
<rect class="og" x="920.1" width="91.9" height="61"/>
<text class="m" y="-7"><tspan x="32">173</tspan><tspan x="277">174</tspan><tspan x="522">175</tspan><tspan x="767">176</tspan></text>
<text class="a" y="77"><tspan x="275.5">184</tspan><tspan x="520.5">144</tspan><tspan x="765.5">150</tspan><tspan x="1010.5">40</tspan></text>
<text class="c" y="90"><tspan x="275.5">178998</tspan><tspan x="520.5">179574</tspan><tspan x="765.5">180174</tspan><tspan x="1010.5">180334</tspan></text>
<text class="p" y="103"><tspan x="275.5">0.00%</tspan><tspan x="520.5">0.00%</tspan><tspan x="765.5">0.00%</tspan><tspan x="1010.5">4.25%</tspan></text>
</g>

<g id="row44" transform="translate(0,6407.5)">
<rect class="pg" x="32" y="-10" width="980" height="81"/>
<use href="#S"/>
<path class="tG" d="M277 0H353.6M522 0H598.6"/>
<path class="tR" d="M368.9 15.25H506.7"/>
<path class="tY" d="M154.5 30.5H261.7M613.9 30.5H751.7"/>
<path class="tB" d="M368.9 45.75H506.7"/>
<path class="tO" d="M613.9 61H751.7M996.7 61H1012"/>
<path class="nG" d="M277 0H522"/>
<path class="nR" d="M368.9 15.25h0"/>
<path class="nY" d="M613.9 30.5h0"/>
<path class="nB" d="M368.9 45.75h0"/>
<path class="nO" d="M613.9 61h0"/>
<path class="kR" d="M32 15.25H71.8H113.5H767H858.9H920.1"/>
<path class="kY" d="M154.5 30.5H828.3H889.5H950.8"/>
<path class="kB" d="M981.4 45.75h0"/>
<path class="kO" d="M996.7 61h0"/>
<rect class="og" x="32" width="229.7" height="61"/>
<rect class="og" x="767" width="245" height="61"/>
<text class="m" y="-7"><tspan x="32">177</tspan><tspan x="277">178</tspan><tspan x="522">179</tspan><tspan x="767">180</tspan></text>
<text class="a" y="77"><tspan x="275.5">121</tspan><tspan x="520.5">144</tspan><tspan x="765.5">144</tspan><tspan x="1010.5">203</tspan></text>
<text class="c" y="90"><tspan x="275.5">180818</tspan><tspan x="520.5">181394</tspan><tspan x="765.5">181970</tspan><tspan x="1010.5">182782</tspan></text>
<text class="p" y="103"><tspan x="275.5">35.20%</tspan><tspan x="520.5">35.20%</tspan><tspan x="765.5">35.20%</tspan><tspan x="1010.5">61.05%</tspan></text>
</g>

<g id="row45" transform="translate(0,6548.5)">
<rect class="pg" x="32" y="-10" width="980" height="81"/>
<use href="#S"/>
<path class="tG" d="M522 0H598.6"/>
<path class="tR" d="M399.5 15.25H506.7"/>
<path class="tY" d="M613.9 30.5H736.4"/>
<path class="tB" d="M123.9 45.75H231.1M246.4 45.75H384.2M399.5 45.75H506.7M767 45.75H1012"/>
<path class="tO" d="M32 61H108.6M613.9 61H736.4M767 61H1012"/>
<path class="nG" d="M522 0h0"/>
<path class="nR" d="M399.5 15.25h0"/>
<path class="nY" d="M613.9 30.5h0"/>
<path class="nB" d="M123.9 45.75H246.4H399.5H767"/>
<path class="nO" d="M613.9 61H767"/>
<rect class="og" x="32" width="76.6" height="61"/>
<text class="m" y="-7"><tspan x="32">181</tspan><tspan x="277">182</tspan><tspan x="522">183</tspan><tspan x="767">184</tspan></text>
<text class="a" y="77"><tspan x="275.5">92</tspan><tspan x="520.5">113</tspan><tspan x="765.5">138</tspan><tspan x="1010.5">146</tspan></text>
<text class="c" y="90"><tspan x="275.5">183150</tspan><tspan x="520.5">183602</tspan><tspan x="765.5">184154</tspan><tspan x="1010.5">184738</tspan></text>
<text class="p" y="103"><tspan x="275.5">65.30%</tspan><tspan x="520.5">65.30%</tspan><tspan x="765.5">65.30%</tspan><tspan x="1010.5">65.30%</tspan></text>
</g>

<g id="row46" transform="translate(0,6689.4)">
<rect class="pg" x="32" y="-10" width="980" height="81"/>
<use href="#S"/>
<path class="tG" d="M277 0H353.6"/>
<path class="tR" d="M368.9 15.25H491.4M522 15.25H598.6"/>
<path class="tY" d="M613.9 30.5H721.1"/>
<path class="tB" d="M32 45.75H261.7M368.9 45.75H491.4M767 45.75H1012"/>
<path class="tO" d="M32 61H261.7M613.9 61H721.1M767 61H1012"/>
<path class="nG" d="M277 0H736.4"/>
<path class="nR" d="M368.9 15.25H522"/>
<path class="nY" d="M613.9 30.5h0"/>
<path class="nB" d="M368.9 45.75H767"/>
<path class="nO" d="M613.9 61H767"/>
<text class="m" y="-7"><tspan x="32">185</tspan><tspan x="277">186</tspan><tspan x="522">187</tspan><tspan x="767">188</tspan></text>
<text class="a" y="77"><tspan x="275.5">90</tspan><tspan x="520.5">138</tspan><tspan x="765.5">157</tspan><tspan x="1010.5">146</tspan></text>
<text class="c" y="90"><tspan x="275.5">185098</tspan><tspan x="520.5">185650</tspan><tspan x="765.5">186278</tspan><tspan x="1010.5">186862</tspan></text>
<text class="p" y="103"><tspan x="275.5">65.30%</tspan><tspan x="520.5">65.30%</tspan><tspan x="765.5">65.30%</tspan><tspan x="1010.5">65.30%</tspan></text>
</g>

<g id="row47" transform="translate(0,6830.4)">
<rect class="pg" x="32" y="-10" width="980" height="81"/>
<use href="#S"/>
<path class="tB" d="M32 45.75H77.9M277 45.75H322.9M338.3 45.75H384.2M399.5 45.75H445.4M460.8 45.75H506.7M522 45.75H567.9M583.3 45.75H629.2M644.5 45.75H690.4M705.8 45.75H751.7"/>
<path class="tO" d="M32 61H77.9"/>
<path class="nB" d="M93.3 45.75H139.2H185.1H231.1H277H338.3H399.5H460.8H522H583.3H644.5H705.8H767H806.8H849.7H889.5H929.3H969.1"/>
<rect class="op" x="338.3" width="17.1" height="61"/>
<rect class="ob" x="355.4" width="656.6" height="61"/>
<text class="k" x="767" y="-20">♩=178</text>
<text class="m" y="-7"><tspan x="32">189</tspan><tspan x="277">190</tspan><tspan x="522">191</tspan><tspan x="767">192</tspan></text>
<text class="a" y="77"><tspan x="275.5">118</tspan><tspan x="520.5">136</tspan><tspan x="765.5">136</tspan><tspan x="1010.5">150</tspan></text>
<text class="c" y="90"><tspan x="275.5">187334</tspan><tspan x="520.5">188286</tspan><tspan x="765.5">189374</tspan><tspan x="1010.5">190574</tspan></text>
<text class="p" y="103"><tspan x="275.5">65.30%</tspan><tspan x="520.5">56.88%</tspan><tspan x="765.5">44.38%</tspan><tspan x="1010.5">31.88%</tspan></text>
</g>

<g id="row48" transform="translate(0,6971.3)">
<rect class="pg" x="32" y="-10" width="857.5" height="81"/>
<rect class="pp" x="889.5" y="-10" width="122.5" height="81"/>
<use href="#S"/>
<path class="tR" d="M629.2 15.25H874.2"/>
<path class="tB" d="M113.5 45.75H169.8M629.2 45.75H874.2"/>
<path class="tO" d="M889.5 61H996.7"/>
<path class="nG" d="M185.1 0H231.1"/>
<path class="nR" d="M277 15.25H338.3H399.5H629.2"/>
<path class="nY" d="M460.8 30.5H522H583.3"/>
<path class="nB" d="M32 45.75H62.6H93.3H113.5H277H338.3H399.5H629.2"/>
<path class="nO" d="M460.8 61H522H583.3H889.5"/>
<rect class="ob" x="32" width="624.7" height="61"/>
<text class="k" x="32" y="-20">♩=179</text>
<text class="k" x="154.5" y="-20">♩=160</text>
<text class="m" y="-7"><tspan x="32">193</tspan><tspan x="277">194</tspan><tspan x="522">195</tspan><tspan x="767">196</tspan></text>
<text class="a" y="77"><tspan x="275.5">161</tspan><tspan x="520.5">200</tspan><tspan x="765.5">204</tspan><tspan x="1010.5">42</tspan></text>
<text class="c" y="90"><tspan x="275.5">191862</tspan><tspan x="520.5">193462</tspan><tspan x="765.5">194922</tspan><tspan x="1010.5">213390</tspan></text>
<text class="p" y="103"><tspan x="275.5">19.38%</tspan><tspan x="520.5">6.88%</tspan><tspan x="765.5">0.00%</tspan><tspan x="1010.5">0.00%</tspan></text>
</g>

<g id="row49" transform="translate(0,7112.3)">
<rect class="pp" x="32" y="-10" width="980" height="81"/>
<use href="#S"/>
<path class="nG" d="M537.3 0H552.6H567.9"/>
<path class="nR" d="M522 15.25H583.3H797.6H874.2H904.8"/>
<path class="nY" d="M113.5 30.5H261.7H322.9H384.2H445.4H506.7H598.6H629.2H690.4H782.3H812.9H843.6H889.5H920.1H950.8"/>
<path class="nB" d="M71.8 45.75H185.1H215.8H246.4H277H307.6H338.3H368.9H399.5H430.1H460.8H491.4H613.9H644.5H675.1H705.8H767H828.3H858.9H935.4H966.1H996.7"/>
<path class="nO" d="M32 61H154.5H231.1H292.3H353.6H414.8H476.1H659.8H721.1H751.7H981.4"/>
<text class="m" y="-7"><tspan x="32">197</tspan><tspan x="277">198</tspan><tspan x="522">199</tspan><tspan x="767">200</tspan></text>
<text class="a" y="77"><tspan x="275.5">0</tspan><tspan x="520.5">0</tspan><tspan x="765.5">0</tspan><tspan x="1010.5">0</tspan></text>
<text class="c" y="90"><tspan x="275.5">213390</tspan><tspan x="520.5">213390</tspan><tspan x="765.5">213390</tspan><tspan x="1010.5">213390</tspan></text>
<text class="p" y="103"><tspan x="275.5">0.00%</tspan><tspan x="520.5">0.00%</tspan><tspan x="765.5">0.00%</tspan><tspan x="1010.5">0.00%</tspan></text>
</g>

<g id="row50" transform="translate(0,7253.2)">
<rect class="pp" x="32" y="-10" width="980" height="81"/>
<use href="#S"/>
<path class="tG" d="M721.1 0H812.9"/>
<path class="tB" d="M430.1 45.75H476.1M966.1 45.75H1012"/>
<path class="tO" d="M93.3 61H154.5M828.3 61H874.2"/>
<path class="nG" d="M322.9 0H353.6H384.2H537.3H598.6H644.5H659.8H690.4H721.1"/>
<path class="nR" d="M47.3 15.25H261.7H292.3H368.9H399.5H522H583.3H629.2H675.1H705.8"/>
<path class="nY" d="M32 30.5H62.6H192H231.1H307.6H338.3H414.8H506.7H567.9H613.9"/>
<path class="nB" d="M246.4 45.75H277H430.1H491.4H552.6H904.8H935.4H966.1"/>
<path class="nO" d="M93.3 61H169.8H215.8H828.3H889.5H920.1H950.8"/>
<text class="m" y="-7"><tspan x="32">201</tspan><tspan x="277">202</tspan><tspan x="522">203</tspan><tspan x="767">204</tspan></text>
<text class="a" y="77"><tspan x="275.5">0</tspan><tspan x="520.5">0</tspan><tspan x="765.5">0</tspan><tspan x="1010.5">0</tspan></text>
<text class="c" y="90"><tspan x="275.5">213390</tspan><tspan x="520.5">213390</tspan><tspan x="765.5">213390</tspan><tspan x="1010.5">213390</tspan></text>
<text class="p" y="103"><tspan x="275.5">0.00%</tspan><tspan x="520.5">0.00%</tspan><tspan x="765.5">0.00%</tspan><tspan x="1010.5">0.00%</tspan></text>
</g>

<g id="row51" transform="translate(0,7394.2)">
<rect class="pp" x="32" y="-10" width="980" height="81"/>
<use href="#S"/>
<path class="tR" d="M460.8 15.25H543.4M552.6 15.25H574.7M583.3 15.25H605.3M613.9 15.25H636M644.5 15.25H666.5M675.1 15.25H697.3M705.8 15.25H758.7M950.8 15.25H1012"/>
<path class="tY" d="M828.3 30.5H874.2M889.5 30.5H935.4"/>
<path class="tB" d="M47.3 45.75H77.9"/>
<path class="nG" d="M169.8 0H307.6H338.3H384.2H414.8H445.4"/>
<path class="nR" d="M123.9 15.25H154.5H261.7H292.3H322.9H368.9H399.5H430.1H460.8H552.6H583.3H613.9H644.5H675.1H705.8H950.8"/>
<path class="nY" d="M108.6 30.5H139.2H215.8H246.4H277H828.3H889.5"/>
<path class="nB" d="M47.3 45.75H93.3H200.4H231.1"/>
<path class="nO" d="M185.1 61h0"/>
<text class="m" y="-7"><tspan x="32">205</tspan><tspan x="277">206</tspan><tspan x="522">207</tspan><tspan x="767">208</tspan></text>
<text class="a" y="77"><tspan x="275.5">0</tspan><tspan x="520.5">0</tspan><tspan x="765.5">0</tspan><tspan x="1010.5">0</tspan></text>
<text class="c" y="90"><tspan x="275.5">213390</tspan><tspan x="520.5">213390</tspan><tspan x="765.5">213390</tspan><tspan x="1010.5">213390</tspan></text>
<text class="p" y="103"><tspan x="275.5">0.00%</tspan><tspan x="520.5">0.00%</tspan><tspan x="765.5">0.00%</tspan><tspan x="1010.5">0.00%</tspan></text>
</g>

<g id="row52" transform="translate(0,7535.1)">
<rect class="pp" x="32" y="-10" width="183.8" height="81"/>
<use href="#S2"/>
<path class="tR" d="M32 15.25H46.7"/>
<path class="tY" d="M62.6 30.5H215.8"/>
<path class="nR" d="M277 15.25h0"/>
<path class="nY" d="M62.6 30.5h0"/>
<path class="nB" d="M277 45.75h0"/>
<text class="m" y="-7"><tspan x="32">209</tspan><tspan x="277">210</tspan></text>
<text class="a" y="77"><tspan x="275.5">0</tspan><tspan x="520.5">0</tspan></text>
<text class="c" y="90"><tspan x="275.5">213390</tspan><tspan x="520.5">224077</tspan></text>
<text class="p" y="103"><tspan x="275.5">0.00%</tspan><tspan x="520.5">0.00%</tspan></text>
</g>
</g>
</svg>
